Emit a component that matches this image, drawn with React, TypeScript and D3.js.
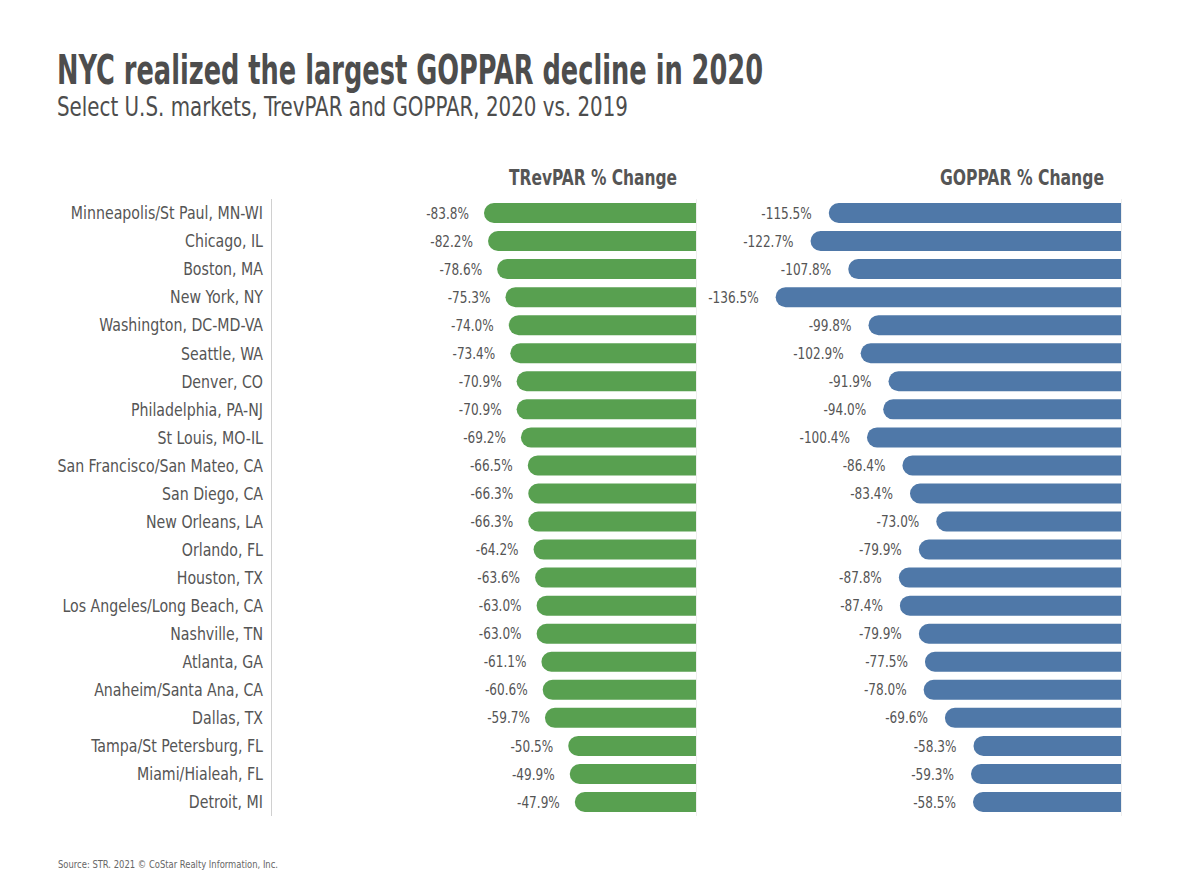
import React from "react";
import * as d3 from "d3";

const categories = [
  "Minneapolis/St Paul, MN-WI", "Chicago, IL", "Boston, MA", "New York, NY",
  "Washington, DC-MD-VA", "Seattle, WA", "Denver, CO", "Philadelphia, PA-NJ",
  "St Louis, MO-IL", "San Francisco/San Mateo, CA", "San Diego, CA", "New Orleans, LA",
  "Orlando, FL", "Houston, TX", "Los Angeles/Long Beach, CA", "Nashville, TN",
  "Atlanta, GA", "Anaheim/Santa Ana, CA", "Dallas, TX", "Tampa/St Petersburg, FL",
  "Miami/Hialeah, FL", "Detroit, MI",
];
const trevpar = [-83.8, -82.2, -78.6, -75.3, -74.0, -73.4, -70.9, -70.9, -69.2, -66.5, -66.3,
  -66.3, -64.2, -63.6, -63.0, -63.0, -61.1, -60.6, -59.7, -50.5, -49.9, -47.9];
const goppar = [-115.5, -122.7, -107.8, -136.5, -99.8, -102.9, -91.9, -94.0, -100.4, -86.4, -83.4,
  -73.0, -79.9, -87.8, -87.4, -79.9, -77.5, -78.0, -69.6, -58.3, -59.3, -58.5];

const FONT = "'Liberation Sans Narrow', 'DejaVu Sans Condensed', 'Roboto', sans-serif";
const GREEN = "#58a050";
const BLUE = "#4f78a8";

function barPath(x0: number, x1: number, yc: number, h: number) {
  const r = h / 2;
  const p = d3.path();
  p.moveTo(x1, yc - r);
  p.lineTo(x0 + r, yc - r);
  p.arc(x0 + r, yc, r, -Math.PI / 2, Math.PI / 2, true);
  p.lineTo(x1, yc + r);
  p.closePath();
  return p.toString();
}

export default function App() {
  const W = 1200, H = 891;
  const y = d3.scalePoint<string>().domain(categories).range([213, 802]);
  const xT = d3.scaleLinear().domain([-100, 0]).range([696 - 253, 696]);
  const xG = d3.scaleLinear().domain([-140, 0]).range([1121 - 354.2, 1121]);
  const bh = 20;
  const fmt = (v: number) => (d3.format(".1f")(v) + "%").replace("\u2212", "-");

  return (
    <svg width={W} height={H} style={{ position: "absolute", left: 0, top: 0, background: "#fff" }} fontFamily={FONT}>
      <rect width={W} height={H} fill="#fff" />
      <text x={57} y={84} fontSize={40} fontWeight="bold" fill="#4d4d4d" textLength={706} lengthAdjust="spacingAndGlyphs">
        NYC realized the largest GOPPAR decline in 2020
      </text>
      <text x={57} y={116} fontSize={27} fill="#4d4d4d" textLength={571} lengthAdjust="spacingAndGlyphs">
        Select U.S. markets, TrevPAR and GOPPAR, 2020 vs. 2019
      </text>
      <text x={593} y={185} fontSize={22} fontWeight="bold" fill="#555" textAnchor="middle" textLength={168} lengthAdjust="spacingAndGlyphs">
        TRevPAR % Change
      </text>
      <text x={1022} y={185} fontSize={22} fontWeight="bold" fill="#555" textAnchor="middle" textLength={164} lengthAdjust="spacingAndGlyphs">
        GOPPAR % Change
      </text>

      <line x1={271.5} x2={271.5} y1={199} y2={816} stroke="#d0d0d0" />
      <line x1={696.5} x2={696.5} y1={199} y2={816} stroke="#eeeeee" />
      <line x1={1121.5} x2={1121.5} y1={199} y2={816} stroke="#eeeeee" />

      {categories.map((c, i) => {
        const yc = y(c)!;
        return (
          <g key={c}>
            <g transform={`translate(263,${yc}) scale(0.875,1)`}>
              <text x={0} y={0} dy="0.35em" fontSize={18} fill="#555" textAnchor="end">{c}</text>
            </g>
            <path d={barPath(xT(trevpar[i]), xT(0), yc, bh)} fill={GREEN} />
            <g transform={`translate(${xT(trevpar[i]) - 15},${yc}) scale(0.84,1)`}>
              <text x={0} y={0} dy="0.35em" fontSize={16} fill="#555" textAnchor="end">{fmt(trevpar[i])}</text>
            </g>
            <path d={barPath(xG(goppar[i]), xG(0), yc, bh)} fill={BLUE} />
            <g transform={`translate(${xG(goppar[i]) - 17},${yc}) scale(0.84,1)`}>
              <text x={0} y={0} dy="0.35em" fontSize={16} fill="#555" textAnchor="end">{fmt(goppar[i])}</text>
            </g>
          </g>
        );
      })}

      <text x={58} y={868} fontSize={11} fill="#666" textLength={220} lengthAdjust="spacingAndGlyphs">
        Source: STR. 2021 © CoStar Realty Information, Inc.
      </text>
    </svg>
  );
}
